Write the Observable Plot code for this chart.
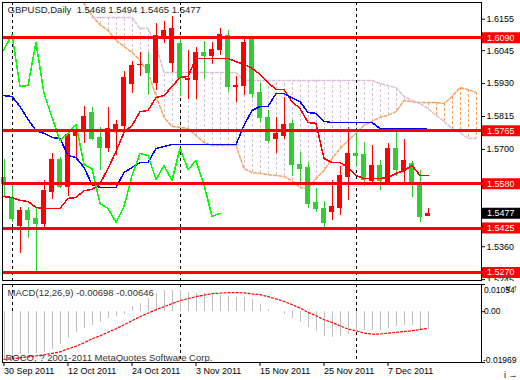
<!DOCTYPE html>
<html><head><meta charset="utf-8">
<script src="https://cdn.jsdelivr.net/npm/d3@7"></script>
<script src="https://cdn.jsdelivr.net/npm/@observablehq/plot@0.6"></script>
<style>
body{margin:0;background:#fff;}
#chart svg{display:block;}
</style></head><body><div id="chart"></div>
<script>
// ---------- data ----------
const dates = ["2011-09-30","2011-10-03","2011-10-04","2011-10-05","2011-10-06","2011-10-07","2011-10-10","2011-10-11","2011-10-12","2011-10-13","2011-10-14","2011-10-17","2011-10-18","2011-10-19","2011-10-20","2011-10-21","2011-10-24","2011-10-25","2011-10-26","2011-10-27","2011-10-28","2011-10-31","2011-11-01","2011-11-02","2011-11-03","2011-11-04","2011-11-07","2011-11-08","2011-11-09","2011-11-10","2011-11-11","2011-11-14","2011-11-15","2011-11-16","2011-11-17","2011-11-18","2011-11-21","2011-11-22","2011-11-23","2011-11-24","2011-11-25","2011-11-28","2011-11-29","2011-11-30","2011-12-01","2011-12-02","2011-12-05","2011-12-06","2011-12-07","2011-12-08","2011-12-09","2011-12-12","2011-12-13","2011-12-14"];
const open  = [1.5602,1.5532,1.5434,1.5487,1.5459,1.5441,1.5553,1.5665,1.5570,1.5749,1.5763,1.5829,1.5742,1.5707,1.5763,1.5784,1.5930,1.5995,1.5997,1.5934,1.6091,1.6004,1.6070,1.5944,1.5944,1.6039,1.6028,1.6049,1.6098,1.5920,1.5923,1.6084,1.5899,1.5812,1.5738,1.5749,1.5791,1.5647,1.5637,1.5515,1.5494,1.5483,1.5497,1.5605,1.5686,1.5682,1.5591,1.5644,1.5588,1.5703,1.5626,1.5651,1.5581,1.5468];
const high  = [1.5665,1.5581,1.5497,1.5497,1.5497,1.5591,1.5686,1.5672,1.5759,1.5784,1.5850,1.5846,1.5777,1.5846,1.5801,1.5972,1.6007,1.6039,1.6039,1.6140,1.6147,1.6164,1.6084,1.6046,1.6056,1.6077,1.6073,1.6123,1.6116,1.5955,1.6091,1.6091,1.5930,1.5836,1.5812,1.5881,1.5801,1.5689,1.5654,1.5563,1.5518,1.5591,1.5640,1.5777,1.5756,1.5724,1.5714,1.5661,1.5721,1.5766,1.5735,1.5658,1.5626,1.5494];
const low   = [1.5532,1.5445,1.5336,1.5389,1.5270,1.5417,1.5525,1.5563,1.5535,1.5661,1.5721,1.5731,1.5626,1.5689,1.5679,1.5766,1.5895,1.5955,1.5888,1.5906,1.6070,1.5969,1.5885,1.5874,1.5874,1.5944,1.5997,1.6028,1.5899,1.5864,1.5888,1.5878,1.5794,1.5721,1.5686,1.5735,1.5605,1.5577,1.5494,1.5480,1.5420,1.5452,1.5469,1.5522,1.5637,1.5570,1.5584,1.5556,1.5584,1.5605,1.5581,1.5532,1.5445,1.5465];
const close = [1.5581,1.5459,1.5487,1.5455,1.5441,1.5556,1.5665,1.5570,1.5752,1.5766,1.5815,1.5738,1.5707,1.5773,1.5787,1.5951,1.5993,1.5998,1.5969,1.6098,1.6116,1.6123,1.5951,1.5948,1.6039,1.6028,1.6049,1.6102,1.5920,1.5923,1.6074,1.5895,1.5812,1.5731,1.5756,1.5787,1.5647,1.5633,1.5511,1.5494,1.5445,1.5501,1.5609,1.5686,1.5679,1.5595,1.5644,1.5591,1.5703,1.5630,1.5661,1.5577,1.5466,1.5477];

// Ichimoku
const tenkan = [1.5535,1.5532,1.5522,1.5518,1.5497,1.5494,1.5494,1.5494,1.5529,1.5532,1.5556,1.5560,1.5581,1.5633,1.5693,1.5759,1.5784,1.5832,1.5836,1.5881,1.5888,1.5920,1.5951,1.5955,1.6018,1.6018,1.6018,1.6018,1.6018,1.6007,1.5997,1.5983,1.5962,1.5934,1.5909,1.5909,1.5867,1.5843,1.5794,1.5791,1.5668,1.5654,1.5654,1.5637,1.5609,1.5598,1.5598,1.5598,1.5602,1.5616,1.5626,1.5644,1.5609,1.5609];
const kijun = [1.5888,1.5885,1.5850,1.5805,1.5766,1.5756,1.5742,1.5738,1.5679,1.5672,1.5637,1.5577,1.5567,1.5567,1.5567,1.5619,1.5637,1.5654,1.5654,1.5703,1.5710,1.5717,1.5717,1.5717,1.5717,1.5717,1.5717,1.5717,1.5717,1.5717,1.5784,1.5836,1.5850,1.5850,1.5895,1.5895,1.5881,1.5867,1.5829,1.5826,1.5798,1.5794,1.5794,1.5794,1.5794,1.5794,1.5794,1.5773,1.5773,1.5773,1.5773,1.5773,1.5773,1.5770];
const spanAStart = 10;
const senkouA = [1.6210,1.6168,1.6136,1.6116,1.6081,1.6060,1.6039,1.6011,1.5969,1.5888,1.5812,1.5780,1.5777,1.5773,1.5749,1.5724,1.5714,1.5714,1.5714,1.5714,1.5633,1.5619,1.5616,1.5612,1.5609,1.5605,1.5591,1.5567,1.5563,1.5598,1.5626,1.5668,1.5703,1.5731,1.5756,1.5784,1.5798,1.5812,1.5819,1.5832,1.5871,1.5867,1.5864,1.5864,1.5864,1.5860,1.5885,1.5916,1.5909,1.5899];
const spanBStart = 11;
const senkouB = [1.6161,1.6161,1.6161,1.6161,1.6161,1.6161,1.6123,1.6123,1.6063,1.5969,1.5969,1.5969,1.5969,1.5969,1.5969,1.5969,1.5969,1.5969,1.5969,1.5941,1.5941,1.5941,1.5941,1.5941,1.5941,1.5941,1.5941,1.5941,1.5941,1.5941,1.5941,1.5941,1.5941,1.5941,1.5941,1.5941,1.5930,1.5923,1.5916,1.5885,1.5871,1.5860,1.5843,1.5819,1.5798,1.5773,1.5759,1.5738,1.5738];
const chikouShift = 26;

// MACD
const macdMain = [-0.01829,-0.01751,-0.0165,-0.0162,-0.0161,-0.0158,-0.0145,-0.0126,-0.0102,-0.0080,-0.0067,-0.0054,-0.0042,-0.0028,-0.0019,-0.0009,0.00195,0.00323,0.00494,0.00689,0.00817,0.00837,0.00817,0.00739,0.00720,0.00700,0.00661,0.00623,0.00584,0.00545,0.00545,0.00455,0.00272,0.00078,-0.00010,-0.00117,-0.00261,-0.00416,-0.00611,-0.00767,-0.00973,-0.01000,-0.00973,-0.00895,-0.00739,-0.00739,-0.00712,-0.00712,-0.00634,-0.00584,-0.00545,-0.00545,-0.00673,-0.00698];
const macdSignal = [-0.01848,-0.01829,-0.01790,-0.01751,-0.01712,-0.01673,-0.01615,-0.01556,-0.01440,-0.01342,-0.01206,-0.01051,-0.00934,-0.00798,-0.00661,-0.00506,-0.00350,-0.00195,-0.00058,0.00078,0.00195,0.00311,0.00428,0.00506,0.00584,0.00642,0.00700,0.00720,0.00739,0.00739,0.00728,0.00689,0.00661,0.00584,0.00494,0.00401,0.00272,0.00144,-0.00027,-0.00156,-0.00311,-0.00416,-0.00545,-0.00673,-0.00739,-0.00829,-0.00868,-0.00868,-0.00829,-0.00805,-0.00767,-0.00739,-0.00689,-0.00646];
const macdTicks = [0.01054, 0, -0.01969];
const macdTickLabels = ["0.01054", "0.00", "-0.01969"];

// levels, ticks, labels
const levels = [1.6090, 1.5765, 1.5580, 1.5425, 1.5270];
const priceTicks = [1.6155, 1.6045, 1.5930, 1.5815, 1.5700, 1.5585, 1.5470, 1.5360, 1.5245];
const dateTickIdx = [0, 8, 16, 24, 32, 40, 48];
const title = "GBPUSD,Daily\u00a0 1.5468 1.5494 1.5465 1.5477";
const macdTitle = "MACD(12,26,9) -0.00698 -0.00646";
const copyright = "ROCO, ? 2001-2011 MetaQuotes Software Corp.";

// ---------- layout ----------
const W = 520, ML = 2, MR = 39;
const X_LO = -0.1875, X_HI = 59.6875;
const PX = (W - ML - MR) / (X_HI - X_LO);
const BOX_X1 = X_HI + 1 / PX, BOX_X2 = X_HI + MR / PX;
const BODY_HALF = 2.5 / PX;
const Y_LO = 1.524199, Y_HI = 1.621334;
const RED = "#FF0000", GREEN = "#32CD32";
const font = {fontFamily: "'Liberation Sans', Arial, sans-serif", fontSize: "9px", background: "white", overflow: "hidden"};

const bars = dates.map((d, i) => ({i, date: new Date(d), o: open[i], h: high[i], l: low[i], c: close[i]}));
const col = b => (b.c >= b.o ? RED : GREEN);
const tenkanData = tenkan.map((v, i) => ({i, v}));
const kijunData = kijun.map((v, i) => ({i, v}));
const spanA = senkouA.map((v, k) => ({i: k + spanAStart, v}));
const spanB = senkouB.map((v, k) => ({i: k + spanBStart, v}));
const cloud = spanB.map(d => ({i: d.i, a: senkouA[d.i - spanAStart], b: d.v}));
const chikou = close.map((v, i) => ({i: i - chikouShift, v})).filter(d => d.i >= -1);
const sepIdx = dates.map((d, i) => (i > 0 && d.slice(5, 7) !== dates[i - 1].slice(5, 7) ? i : -1)).filter(i => i >= 0);
const fmtDate = d3.utcFormat("%-d %b %Y");
const last = bars[bars.length - 1];
// axis labels that sit under a price box are not shown (the box covers them)
const covered = [...levels, last.c];
const priceLabel = d => (covered.some(v => Math.abs(v - d) < 0.0012) ? "" : d.toFixed(4));

const main = Plot.plot({
  width: W, height: 281, marginLeft: ML, marginRight: MR, marginTop: 2, marginBottom: 1,
  style: font,
  x: {domain: [X_LO, X_HI], axis: null},
  y: {domain: [Y_LO, Y_HI], axis: null},
  color: {type: "identity"},
  marks: [
    Plot.ruleX(cloud, {x: "i", y1: "a", y2: "b", stroke: d => (d.a >= d.b ? "#F4A460" : "#D8BFD8"), strokeDasharray: "3,2", clip: true, shapeRendering: "crispEdges"}),
    Plot.line(spanA, {x: "i", y: "v", stroke: "#F4A460", strokeDasharray: "3,2", clip: true}),
    Plot.line(spanB, {x: "i", y: "v", stroke: "#D8BFD8", strokeDasharray: "3,2", clip: true}),
    Plot.ruleX(sepIdx, {stroke: "black", strokeDasharray: "3,3", shapeRendering: "crispEdges"}),
    Plot.ruleX(bars, {x: "i", y1: "l", y2: "h", stroke: col, shapeRendering: "crispEdges"}),
    Plot.rect(bars, {x1: b => b.i - BODY_HALF, x2: b => b.i + BODY_HALF, y1: b => Math.min(b.o, b.c), y2: b => Math.max(b.o, b.c), fill: col, shapeRendering: "crispEdges"}),
    Plot.ruleY(bars, {y: "c", x1: b => b.i - BODY_HALF, x2: b => b.i + BODY_HALF, stroke: col, shapeRendering: "crispEdges"}),
    Plot.ruleY(bars, {y: "o", x1: b => b.i - BODY_HALF, x2: b => b.i + BODY_HALF, stroke: col, shapeRendering: "crispEdges"}),
    Plot.line(tenkanData, {x: "i", y: "v", stroke: "#FF0000", clip: true, shapeRendering: "crispEdges"}),
    Plot.line(kijunData, {x: "i", y: "v", stroke: "#0000FF", clip: true, shapeRendering: "crispEdges"}),
    Plot.line(chikou, {x: "i", y: "v", stroke: "#00FF00", clip: true, shapeRendering: "crispEdges"}),
    Plot.ruleY(levels, {stroke: RED, strokeWidth: 3, shapeRendering: "crispEdges"}),
    Plot.frame({stroke: "black", shapeRendering: "crispEdges"}),
    Plot.axisY({anchor: "right", ticks: priceTicks, tickFormat: priceLabel, tickSize: 3, tickPadding: 2, fontSize: 9, color: "black"}),
    Plot.ruleY(levels, {x1: () => BOX_X1, x2: () => BOX_X2, stroke: RED, strokeWidth: 11}),
    Plot.text(levels, {x: () => BOX_X1, y: d => d, text: d => d.toFixed(4), textAnchor: "start", dx: 4.5, fill: "white", fontSize: 9}),
    Plot.ruleY([last], {y: "c", x1: () => BOX_X1, x2: () => BOX_X2, stroke: "black", strokeWidth: 11}),
    Plot.text([last], {x: () => BOX_X1, y: "c", text: d => d.c.toFixed(4), textAnchor: "start", dx: 4.5, fill: "white", fontSize: 9}),
    Plot.text([title], {text: d => d, frameAnchor: "top-left", dx: 5, dy: 4, lineAnchor: "top", textAnchor: "start", fill: "#222", fontSize: 9.5})
  ]
});

const macdData = macdMain.map((v, i) => ({i, v}));
const signalData = macdSignal.map((v, i) => ({i, v}));
const macdLabelData = macdTicks.map((v, k) => ({v, t: macdTickLabels[k]}));

const macd = Plot.plot({
  width: W, height: 99, marginLeft: ML, marginRight: MR, marginTop: 3, marginBottom: 18,
  style: font,
  x: {domain: [X_LO, X_HI]},
  y: {domain: [macdTicks[2], macdTicks[0]], axis: null},
  marks: [
    Plot.ruleX(sepIdx, {stroke: "black", strokeDasharray: "3,3", shapeRendering: "crispEdges"}),
    Plot.ruleX(macdData, {x: "i", y1: () => 0, y2: "v", stroke: "#C0C0C0", shapeRendering: "crispEdges"}),
    Plot.line(signalData, {x: "i", y: "v", stroke: "red", strokeDasharray: "2,2", strokeWidth: 1.2}),
    Plot.frame({stroke: "black", shapeRendering: "crispEdges"}),
    Plot.axisX({ticks: dateTickIdx, tickFormat: i => fmtDate(bars[i].date), tickSize: 4, tickPadding: 1, textAnchor: "start", fontSize: 9, color: "black"}),
    Plot.axisY({anchor: "right", ticks: macdTicks, tickSize: 3, tickFormat: () => ""}),
    Plot.text([macdLabelData[0]], {x: () => BOX_X1, y: "v", text: "t", textAnchor: "start", lineAnchor: "top", dx: 1.5, dy: 2, fill: "black", fontSize: 8.5}),
    Plot.text([macdLabelData[1]], {x: () => BOX_X1, y: "v", text: "t", textAnchor: "start", lineAnchor: "middle", dx: 1.5, fill: "black", fontSize: 8.5}),
    Plot.text([macdLabelData[2]], {x: () => BOX_X1, y: "v", text: "t", textAnchor: "start", lineAnchor: "bottom", dx: 0.5, dy: 0, fill: "black", fontSize: 8.5}),
    Plot.text([macdTitle], {text: d => d, frameAnchor: "top-left", dx: 5, dy: 5, lineAnchor: "top", textAnchor: "start", fill: "#333", fontSize: 9.5}),
    Plot.text([copyright], {text: d => d, frameAnchor: "bottom-left", dx: 3, dy: -2, lineAnchor: "bottom", textAnchor: "start", fill: "#333", fontSize: 9.5})
  ]
});

const el = document.getElementById("chart");
el.append(main, macd);
</script>
</body></html>
